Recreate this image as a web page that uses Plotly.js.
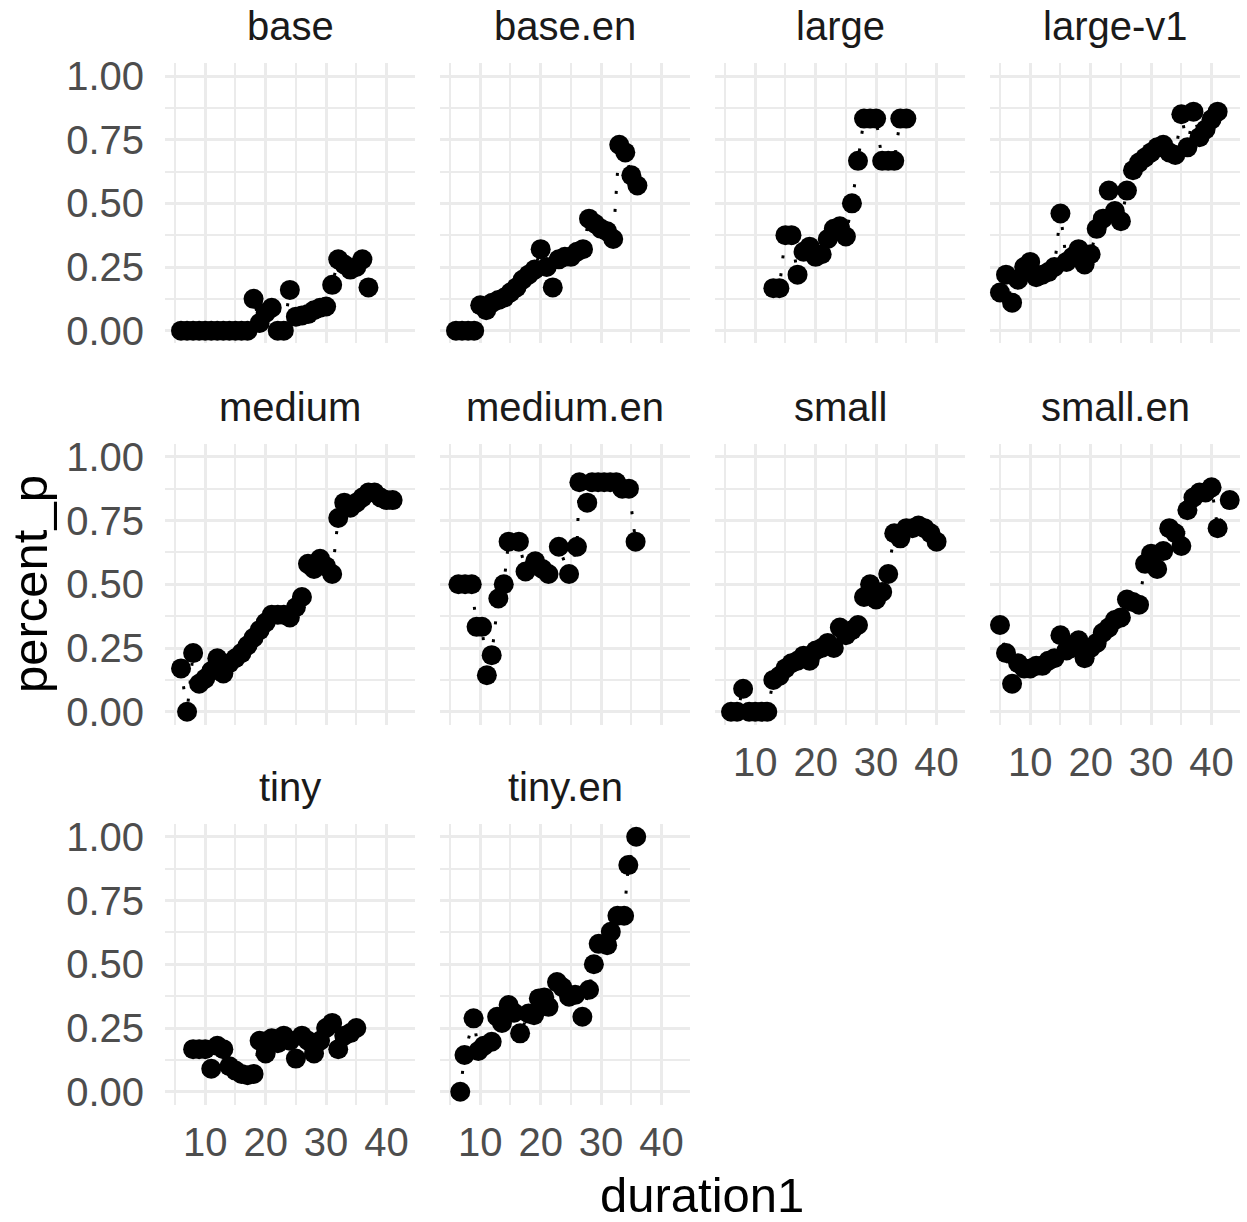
<!DOCTYPE html>
<html>
<head>
<meta charset="utf-8">
<script src="https://cdn.plot.ly/plotly-3.0.1.min.js"></script>
<style>html,body{margin:0;padding:0;background:#fff;}#chart{width:1247px;height:1222px;}</style>
</head>
<body>
<div id="chart"></div>
<script>
// ---------- data ----------
const panelNames = ['base','base.en','large','large-v1','medium','medium.en','small','small.en','tiny','tiny.en'];

const base_x = [6,7,8,9,10,11,12,13,14,15,16,17,18,19,20,21,22,23,24,25,26,27,28,29,30,31,32,33,34,35,36,37];
const base_y = [0,0,0,0,0,0,0,0,0,0,0,0,0.125,0.03,0.07,0.09,0.0,0.0,0.16,0.055,0.06,0.065,0.08,0.09,0.095,0.18,0.28,0.26,0.24,0.25,0.28,0.17];

const base_en_x = [6,7,8,9,10,11,12,13,14,15,16,17,18,19,20,21,22,23,24,25,26,27,28,29,30,31,32,33,34,35,36];
const base_en_y = [0,0,0,0,0.1,0.08,0.11,0.12,0.13,0.15,0.17,0.2,0.22,0.24,0.32,0.25,0.17,0.28,0.29,0.29,0.31,0.32,0.44,0.42,0.40,0.39,0.36,0.73,0.70,0.61,0.57];

const large_x = [13,14,15,16,17,18,19,20,21,22,23,24,25,26,27,28,29,30,31,32,33,34,35];
const large_y = [0.167,0.167,0.375,0.375,0.22,0.31,0.33,0.29,0.30,0.36,0.40,0.41,0.37,0.5,0.667,0.833,0.833,0.833,0.667,0.667,0.667,0.833,0.833];

const large_v1_x = [5,6,7,8,9,10,11,12,13,14,15,16,17,18,19,20,21,22,23,24,25,26,27,28,29,30,31,32,33,34,35,36,37,38,39,40,41];
const large_v1_y = [0.15,0.22,0.11,0.2,0.25,0.27,0.21,0.22,0.23,0.25,0.46,0.27,0.29,0.32,0.26,0.30,0.40,0.44,0.55,0.47,0.43,0.55,0.63,0.66,0.68,0.70,0.72,0.73,0.70,0.69,0.85,0.72,0.86,0.76,0.79,0.83,0.86];

const medium_x = [6,7,8,9,10,11,12,13,14,15,16,17,18,19,20,21,22,23,24,25,26,27,28,29,30,31,32,33,34,35,36,37,38,39,40,41];
const medium_y = [0.17,0.0,0.23,0.11,0.13,0.16,0.21,0.15,0.19,0.21,0.23,0.26,0.29,0.32,0.35,0.38,0.38,0.38,0.37,0.41,0.45,0.58,0.56,0.60,0.57,0.54,0.76,0.82,0.80,0.82,0.84,0.86,0.86,0.84,0.83,0.83];

const medium_en_x = [6.4,7.5,8.6,9.4,10.3,11.1,11.9,13.0,13.9,14.7,16.4,17.5,19.1,20.3,21.3,23.0,24.7,26.0,26.4,27.7,28.5,29.5,30.5,31.5,32.5,33.5,34.6,35.7];
const medium_en_y = [0.5,0.5,0.5,0.333,0.333,0.143,0.222,0.444,0.5,0.667,0.667,0.55,0.59,0.56,0.54,0.647,0.54,0.647,0.9,0.82,0.9,0.9,0.9,0.9,0.9,0.875,0.875,0.667];

const small_x = [6,7,8,9,10,11,12,13,14,15,16,17,18,19,20,21,22,23,24,25,26,27,28,29,30,31,32,33,34,35,36,37,38,39,40];
const small_y = [0,0,0.09,0,0,0,0,0.125,0.14,0.17,0.19,0.2,0.22,0.2,0.24,0.25,0.27,0.25,0.33,0.3,0.32,0.34,0.45,0.5,0.44,0.47,0.54,0.70,0.68,0.72,0.72,0.73,0.72,0.70,0.667];

const small_en_x = [5,6,7,8,9,10,11,12,13,14,15,16,17,18,19,20,21,22,23,24,25,26,27,28,29,30,31,32,33,34,35,36,37,38,39,40,41,43];
const small_en_y = [0.34,0.23,0.11,0.19,0.17,0.17,0.18,0.18,0.2,0.21,0.3,0.24,0.25,0.28,0.21,0.25,0.27,0.31,0.33,0.36,0.37,0.44,0.43,0.42,0.58,0.62,0.56,0.63,0.72,0.70,0.65,0.79,0.84,0.86,0.86,0.88,0.72,0.83];

const tiny_x = [8,9,10,11,12,13,14,15,16,17,18,19,20,21,22,23,24,25,26,27,28,29,30,31,32,33,34,35];
const tiny_y = [0.167,0.167,0.167,0.09,0.18,0.167,0.1,0.083,0.07,0.065,0.07,0.2,0.15,0.21,0.19,0.22,0.2,0.13,0.22,0.2,0.15,0.2,0.25,0.27,0.167,0.22,0.23,0.25];

const tiny_en_x = [6.7,7.4,8.9,9.7,10.6,11.9,12.8,13.6,14.7,15.6,16.6,18.0,18.9,19.7,20.6,21.3,22.7,23.6,24.7,25.7,26.9,28.0,28.8,29.6,31.0,31.6,32.7,33.8,34.5,35.8];
const tiny_en_y = [0,0.144,0.288,0.16,0.18,0.196,0.294,0.27,0.34,0.31,0.229,0.307,0.3,0.366,0.37,0.333,0.43,0.41,0.373,0.38,0.294,0.4,0.5,0.58,0.575,0.627,0.69,0.69,0.889,1.0];

const xTickVals = [10,20,30,40];
const yTickVals = [0,0.25,0.5,0.75,1];
const yTickText = ['0.00','0.25','0.50','0.75','1.00'];
const xTitle = 'duration1';
const yTitle = 'percent_p';

// ---------- layout ----------
const seriesX = [base_x, base_en_x, large_x, large_v1_x, medium_x, medium_en_x, small_x, small_en_x, tiny_x, tiny_en_x];
const seriesY = [base_y, base_en_y, large_y, large_v1_y, medium_y, medium_en_y, small_y, small_en_y, tiny_y, tiny_en_y];

const W = 1247, H = 1222;
const colsPx = [[165,415],[440,690],[715,965],[990,1240]];
const rowsPx = [[63.3,343.4],[444,724.5],[824,1104.5]];
const FONT = 'Liberation Sans, Arial, Helvetica, sans-serif';
const GRID = '#ebebeb';
const TICKSIZE = 40;

const traces = [];
const layout = {
  width: W, height: H,
  margin: {l:0, r:0, t:0, b:0},
  paper_bgcolor: '#ffffff', plot_bgcolor: '#ffffff',
  showlegend: false,
  font: {family: FONT, color: '#4d4d4d', size: TICKSIZE},
  annotations: []
};

const showXLabels = [false,false,false,false,false,false,true,true,true,true];

for (let i = 0; i < panelNames.length; i++) {
  const row = Math.floor(i/4), col = i % 4;
  const sfx = i === 0 ? '' : String(i+1);
  const xd = [colsPx[col][0]/W, colsPx[col][1]/W];
  const yd = [1 - rowsPx[row][1]/H, 1 - rowsPx[row][0]/H];
  layout['xaxis'+sfx] = {
    domain: xd, anchor: 'y'+sfx, range: [3.35, 44.7],
    tickvals: xTickVals, ticks: '', showline: false, zeroline: false,
    showgrid: true, gridcolor: GRID, gridwidth: 3,
    minor: {dtick: 5, tick0: 0, showgrid: true, gridcolor: GRID, gridwidth: 2},
    showticklabels: showXLabels[i], ticklabelstandoff: 10,
    tickfont: {family: FONT, size: TICKSIZE, color: '#4d4d4d'}
  };
  layout['yaxis'+sfx] = {
    domain: yd, anchor: 'x'+sfx, range: [-0.05, 1.05],
    tickvals: yTickVals, ticktext: yTickText, ticks: '', showline: false, zeroline: false,
    showgrid: true, gridcolor: GRID, gridwidth: 3,
    minor: {dtick: 0.125, tick0: 0, showgrid: true, gridcolor: GRID, gridwidth: 2},
    showticklabels: col === 0, ticklabelstandoff: 20,
    tickfont: {family: FONT, size: TICKSIZE, color: '#4d4d4d'}
  };
  traces.push({
    type: 'scatter', mode: 'lines+markers',
    x: seriesX[i], y: seriesY[i],
    xaxis: 'x'+sfx, yaxis: 'y'+sfx,
    line: {color: '#000000', width: 3, dash: '3px,15px'},
    marker: {color: '#000000', size: 20},
    cliponaxis: false, hoverinfo: 'skip'
  });
  layout.annotations.push({
    text: panelNames[i], xref: 'paper', yref: 'paper',
    x: (colsPx[col][0] + colsPx[col][1]) / 2 / W,
    y: 1 - (rowsPx[row][0] - 37) / H,
    xanchor: 'center', yanchor: 'middle', showarrow: false,
    font: {family: FONT, size: TICKSIZE, color: '#1a1a1a'}
  });
}

layout.annotations.push({
  text: yTitle, xref: 'paper', yref: 'paper',
  x: 30 / W, y: 1 - 584 / H, xanchor: 'center', yanchor: 'middle',
  textangle: -90, showarrow: false,
  font: {family: FONT, size: 49, color: '#000000'}
});
layout.annotations.push({
  text: xTitle, xref: 'paper', yref: 'paper',
  x: 702 / W, y: 1 - 1195 / H, xanchor: 'center', yanchor: 'middle',
  showarrow: false,
  font: {family: FONT, size: 49, color: '#000000'}
});

Plotly.newPlot('chart', traces, layout, {staticPlot: true, displayModeBar: false});
</script>
</body>
</html>
